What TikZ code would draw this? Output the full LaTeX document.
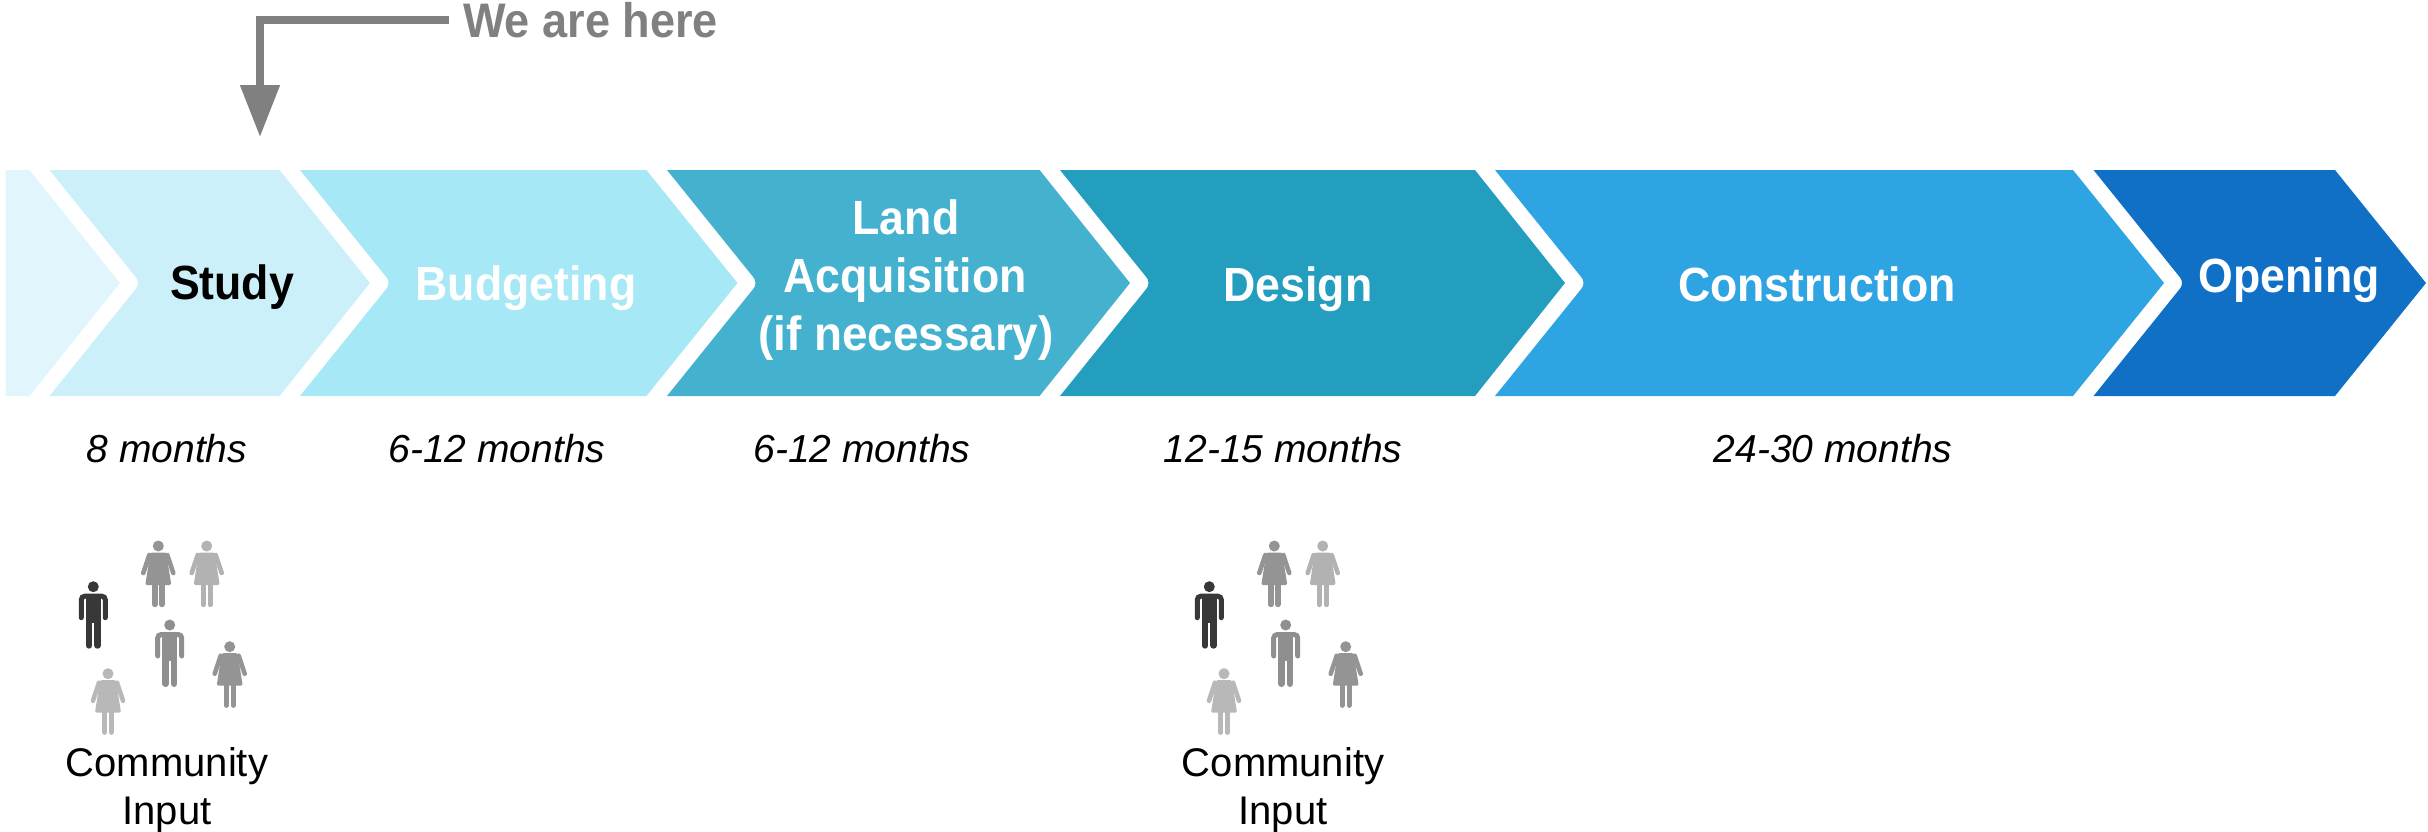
\documentclass[tikz,border=0pt]{standalone}
\usepackage{graphicx}
\usepackage{fontspec}
\setmainfont{Liberation Sans}
\usetikzlibrary{arrows.meta}
\definecolor{cZero}{HTML}{E1F6FC}
\definecolor{cStudy}{HTML}{CCF0FA}
\definecolor{cBudget}{HTML}{A7E8F7}
\definecolor{cLand}{HTML}{44B1CF}
\definecolor{cDesign}{HTML}{249EBF}
\definecolor{cBuild}{HTML}{2EA4E2}
\definecolor{cOpen}{HTML}{0F70C5}
\definecolor{cHere}{HTML}{808080}
% #1 colour, #2 top-left x, #3 top-right x, #4 tip x
\newcommand{\chevshape}[4]{%
  \fill[#1] (#2,170) [rounded corners=7pt] -- ({#2+91},283) [sharp corners] -- (#2,396) -- (#3,396) -- (#4,283) -- (#3,170) -- cycle;}
\newcommand{\narrowtext}[1]{\scalebox{0.93}[1]{#1}}
\tikzset{
  x=1pt,y=-1pt,
  steplabel/.style={font=\fontsize{48}{58}\selectfont\bfseries,text=white,inner sep=0pt,anchor=base,align=center},
  timelabel/.style={font=\fontsize{39}{46}\selectfont\itshape,text=black,inner sep=0pt,anchor=base},
  inputlabel/.style={font=\fontsize{40}{48}\selectfont,text=black,inner sep=0pt,anchor=base,align=center},
  pics/manfig/.style={code={
    \fill[#1] (0,0) circle (5.5);
    \draw[#1,line width=5pt,line cap=round,rounded corners=3.5pt] (-12,31)--(-12,9.5)--(12,9.5)--(12,31);
    \fill[#1] (-7.6,8) rectangle (7.6,36);
    \draw[#1,line width=6.6pt,line cap=round] (-4.3,34)--(-4.3,58.7);
    \draw[#1,line width=6.6pt,line cap=round] (4.3,34)--(4.3,58.7);
  }},
  pics/womanfig/.style={code={
    \fill[#1] (0,0) circle (5.5);
    \fill[#1,rounded corners=1.5pt] (-8,6.5)--(8,6.5)--(13,39)--(-13,39)--cycle;
    \draw[#1,line width=4.6pt,line cap=round] (-9,9)--(-15,27);
    \draw[#1,line width=4.6pt,line cap=round] (9,9)--(15,27);
    \draw[#1,line width=5.4pt,line cap=round] (-3.5,38)--(-3.5,58.5);
    \draw[#1,line width=5.4pt,line cap=round] (3.5,38)--(3.5,58.5);
  }},
  pics/crowd/.style={code={
    \pic at (93.3,586.7) {manfig={black!78}};
    \pic at (158.3,546) {womanfig={black!42}};
    \pic at (206.7,546) {womanfig={black!30}};
    \pic at (169.7,625) {manfig={black!44}};
    \pic at (229.7,646.7) {womanfig={black!42}};
    \pic at (108,673.7) {womanfig={black!28}};
  }}
}
\begin{document}
\begin{tikzpicture}
\useasboundingbox (0,0) rectangle (2428,831);
% chevrons
\fill[cZero] (5.5,170) -- (29.6,170) -- (120,283) -- (29.6,396) -- (5.5,396) -- cycle;
\chevshape{cStudy}{49.5}{279.6}{370}
\chevshape{cBudget}{300}{646.4}{737.5}
\chevshape{cLand}{667}{1039.6}{1130}
\chevshape{cDesign}{1060}{1475}{1565}
\chevshape{cBuild}{1495}{2073}{2164}
\chevshape{cOpen}{2093.5}{2335}{2426}
% step labels
\node[steplabel,text=black] (study) at (232,299.5) {\narrowtext{Study}};
\node[steplabel] (budget) at (526,300) {\narrowtext{Budgeting}};
\node[steplabel] (land1) at (906,234) {\narrowtext{Land}};
\node[steplabel] (land2) at (905,292) {\narrowtext{Acquisition}};
\node[steplabel] (land3) at (906,350) {\scalebox{0.955}[1]{(if necessary)}};
\node[steplabel] (design) at (1298,301) {\narrowtext{Design}};
\node[steplabel] (build) at (1817,301) {\narrowtext{Construction}};
\node[steplabel] (open) at (2289,292) {\narrowtext{Opening}};
% durations
\node[timelabel] (t1) at (167,462) {8 months};
\node[timelabel] (t2) at (497,462) {6-12 months};
\node[timelabel] (t3) at (862,462) {6-12 months};
\node[timelabel] (t4) at (1283,462) {12-15 months};
\node[timelabel] (t5) at (1833,462) {24-30 months};
% community input
\pic at (0,0) {crowd};
\pic at (1116,0) {crowd};
\node[inputlabel] (c1a) at (167,776) {Community};
\node[inputlabel] (c1b) at (167,824) {Input};
\node[inputlabel] (c2a) at (1283,776) {Community};
\node[inputlabel] (c2b) at (1283,824) {Input};
% we are here
\node[font=\fontsize{48.5}{54}\selectfont\bfseries,text=cHere,inner sep=0pt,anchor=base west] (here) at (463,37) {\narrowtext{We are here}};
\coordinate (herestart) at (449,20);
\coordinate (heretip) at (260,137);
\draw[cHere,line width=8pt,-{Triangle[length=52pt,width=38pt]}] (herestart) -- (heretip |- herestart) -- (heretip);
\end{tikzpicture}
\end{document}
